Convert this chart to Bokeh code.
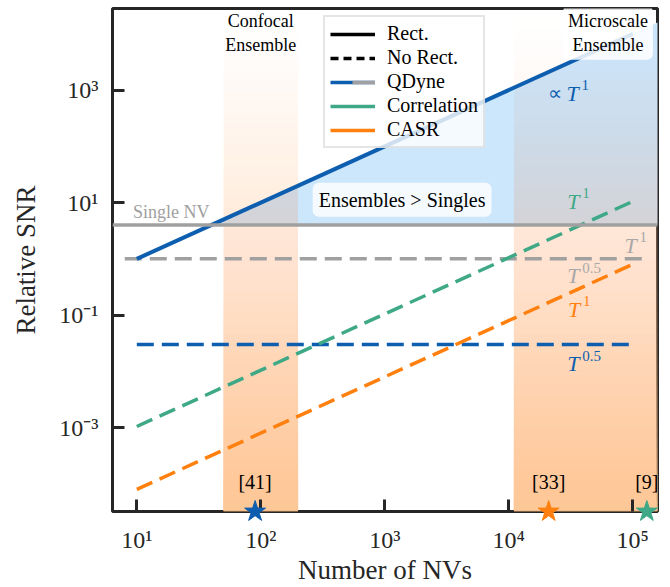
import numpy as np
from bokeh.plotting import figure
from bokeh.models import Label, Legend, LegendItem, FixedTicker, Range1d, ColumnDataSource, Span
from bokeh.embed import file_html
from bokeh.resources import INLINE

# ---------------- data ----------------
BLUE = "#0d5eaf"
GREEN = "#3fa987"
ORANGE = "#ff800e"
GREY = "#a0a0a0"
INK = "#262626"
SERIF = "'Liberation Serif', serif"

n_nvs = [10, 1e5]
qdyne_rect = [1.0, 1.0e4]
qdyne_norect = [0.03, 0.03]
single_norect_nvs = [8, 1.25e5]
single_norect = [1.0, 1.0]
corr_norect = [1.05e-3, 10.5]
casr_norect = [8e-5, 0.8]
single_nv_level = 4.0

fill_nvs = [40, 1.6e5]
fill_low = [4.0, 4.0]
fill_high = [4.0, 1.6e4]

band_left = [50, 1.1e4]
band_right = [200, 2e5]
band_titles = ["Confocal\nEnsemble", "Microscale\nEnsemble"]

ref_labels = ["[41]", "[33]", "[9]"]
ref_nvs = [90, 2.1e4, 1.3e5]
ref_colors = [BLUE, ORANGE, GREEN]

x_ticks = [10, 100, 1000, 10000, 100000]
x_tick_labels = ["10¹", "10²", "10³", "10⁴", "10⁵"]
y_ticks = [1e-3, 1e-1, 10, 1000]
y_tick_labels = ["10⁻³", "10⁻¹", "10¹", "10³"]

legend_labels = ["Rect.", "No Rect.", "QDyne", "Correlation", "CASR"]

XLOG = (0.804, 5.2)
YLOG = (-4.49, 4.45)

# ---------------- figure ----------------
p = figure(width=670, height=587, x_axis_type="log", y_axis_type="log",
           x_range=Range1d(10 ** XLOG[0], 10 ** XLOG[1]),
           y_range=Range1d(10 ** YLOG[0], 10 ** YLOG[1]),
           output_backend="svg", toolbar_location=None,
           min_border_left=112, min_border_right=13, min_border_top=8, min_border_bottom=74)
p.background_fill_color = "white"
p.border_fill_color = "white"
p.xgrid.visible = False
p.ygrid.visible = False
p.outline_line_color = INK
p.outline_line_width = 3
p.outline_line_alpha = 1.0

for ax, ticks, labels in ((p.xaxis[0], x_ticks, x_tick_labels), (p.yaxis[0], y_ticks, y_tick_labels)):
    ax.ticker = FixedTicker(ticks=ticks, minor_ticks=[])
    ax.major_label_overrides = {float(t): l for t, l in zip(ticks, labels)}
    ax.axis_line_color = None
    ax.major_tick_in = 12
    ax.major_tick_out = 0
    ax.major_tick_line_width = 3
    ax.major_tick_line_color = INK
    ax.minor_tick_line_color = None
    ax.major_label_text_font = SERIF
    ax.major_label_text_font_size = "24px"
    ax.major_label_text_color = INK
    ax.axis_label_text_font = SERIF
    ax.axis_label_text_font_size = "27px"
    ax.axis_label_text_font_style = "normal"
    ax.axis_label_text_color = INK

p.xaxis.axis_label = "Number of NVs"
p.yaxis.axis_label = "Relative SNR"
p.xaxis.major_label_standoff = 15
p.xaxis.axis_label_standoff = -1
p.yaxis.major_label_standoff = 14
p.yaxis.axis_label_standoff = 15

# blue "ensembles > singles" fill
p.varea(x=fill_nvs, y1=fill_low, y2=fill_high, fill_color="#cce6fc", fill_alpha=1.0)

# gradient bands (stacked translucent layers -> alpha grows toward bottom)
nlev = 48
edges = np.linspace(YLOG[1], YLOG[0], nlev + 1)
target = 0.97 * ((np.arange(nlev) + 0.5) / nlev) ** 1.3
prev = np.concatenate([[0.0], target[:-1]])
layer_alpha = 1 - (1 - target) / (1 - prev)
q = dict(left=[], right=[], bottom=[], top=[], alpha=[])
for bl, br in zip(band_left, band_right):
    for r in range(nlev):
        q["left"].append(bl)
        q["right"].append(br)
        q["bottom"].append(10 ** YLOG[0])
        q["top"].append(10 ** edges[r])
        q["alpha"].append(layer_alpha[r])
p.quad(left="left", right="right", bottom="bottom", top="top", fill_alpha="alpha",
       fill_color="#fdc896", line_color=None, source=ColumnDataSource(q))

# single NV level
p.add_layout(Span(location=single_nv_level, dimension="width", line_color=GREY, line_width=3.5))

DASH = "17 8"
p.line(single_norect_nvs, single_norect, line_color=GREY, line_width=3.5, line_dash=DASH)
p.line(n_nvs, qdyne_norect, line_color=BLUE, line_width=3.5, line_dash=DASH)
p.line(n_nvs, corr_norect, line_color=GREEN, line_width=3.5, line_dash=DASH)
p.line(n_nvs, casr_norect, line_color=ORANGE, line_width=3.5, line_dash=DASH)
p.line(n_nvs, qdyne_rect, line_color=BLUE, line_width=4)

# band titles
p.add_layout(Label(x=np.sqrt(band_left[0] * band_right[0]), y=10 ** 4.02, text=band_titles[0],
                   text_align="center", text_baseline="middle", text_font=SERIF,
                   text_font_size="18px", text_color="black"))
p.add_layout(Label(x=10 ** 4.8, y=10 ** 4.02, text=band_titles[1],
                   text_align="center", text_baseline="middle", text_font=SERIF,
                   text_font_size="18px", text_color="black",
                   background_fill_color="white", background_fill_alpha=0.85,
                   padding=5, border_radius=6))
p.add_layout(Label(x=10 ** 3.14, y=10 ** 1.05, text="Ensembles > Singles",
                   text_align="center", text_baseline="middle", text_font=SERIF,
                   text_font_size="20px", text_color="black",
                   background_fill_color="white", background_fill_alpha=0.8,
                   padding=6, border_radius=6))
p.add_layout(Label(x=9.3, y=single_nv_level, y_offset=3, text="Single NV",
                   text_align="left", text_baseline="bottom", text_font=SERIF,
                   text_font_size="18px", text_color=GREY))

# scaling annotations T^a
def power_label(x, y, exponent, color, prefix=None):
    p.add_layout(Label(x=x, y=y, text="T", text_font=SERIF, text_font_style="italic",
                       text_font_size="22px", text_color=color, text_baseline="middle",
                       text_align="left"))
    p.add_layout(Label(x=x, y=y, x_offset=15, y_offset=8, text=exponent, text_font=SERIF,
                       text_font_size="15px", text_color=color, text_baseline="middle",
                       text_align="left"))
    if prefix:
        p.add_layout(Label(x=x, y=y, x_offset=-4, text=prefix, text_font=SERIF,
                           text_font_size="20px", text_color=color, text_baseline="middle",
                           text_align="right"))

power_label(2.92e4, 885, "1", BLUE, prefix="∝")
power_label(2.97e4, 10.5, "1", GREEN)
power_label(8.6e4, 1.73, "1", "#a8a8a8")
power_label(2.97e4, 0.5, "0.5", "#a8a8a8")
power_label(3.0e4, 0.128, "1", ORANGE)
power_label(2.97e4, 0.0136, "0.5", BLUE)

# references and stars
for lab, xv in zip(ref_labels, ref_nvs):
    p.add_layout(Label(x=xv, y=1.1e-4, text=lab, text_align="center", text_baseline="middle",
                       text_font=SERIF, text_font_size="20px", text_color="black"))
p.scatter(x=ref_nvs, y=[10 ** YLOG[0]] * len(ref_nvs), marker="star", size=22,
          fill_color=ref_colors, line_color=ref_colors, level="overlay")

# legend proxies: lines placed far outside the visible y range
proxy_x = [1, 2]
proxy_y = [1e-12, 1e-12]
r_rect = p.line(proxy_x, proxy_y, line_color="black", line_width=3.5)
r_norect = p.line(proxy_x, proxy_y, line_color="black", line_width=3.5, line_dash="8 5")
r_q1 = p.line(proxy_x, proxy_y, line_color=BLUE, line_width=3.5)
r_q2 = p.line(proxy_x, proxy_y, line_color=GREY, line_width=3.5, line_dash="0 22 60 0")
r_corr = p.line(proxy_x, proxy_y, line_color=GREEN, line_width=3.5)
r_casr = p.line(proxy_x, proxy_y, line_color=ORANGE, line_width=3.5)
legend = Legend(items=[
    LegendItem(label=legend_labels[0], renderers=[r_rect]),
    LegendItem(label=legend_labels[1], renderers=[r_norect]),
    LegendItem(label=legend_labels[2], renderers=[r_q1, r_q2]),
    LegendItem(label=legend_labels[3], renderers=[r_corr]),
    LegendItem(label=legend_labels[4], renderers=[r_casr]),
], location=(211, 363))
legend.label_text_font = SERIF
legend.label_text_font_size = "20px"
legend.label_text_color = "black"
legend.glyph_width = 45
legend.glyph_height = 20
legend.label_height = 20
legend.label_standoff = 12
legend.spacing = 1
legend.padding = 5
legend.margin = 0
legend.border_line_color = "#cccccc"
legend.border_line_width = 2
legend.background_fill_color = "white"
legend.background_fill_alpha = 0.8
p.add_layout(legend)

open("out.html", "w").write(file_html(p, INLINE))
